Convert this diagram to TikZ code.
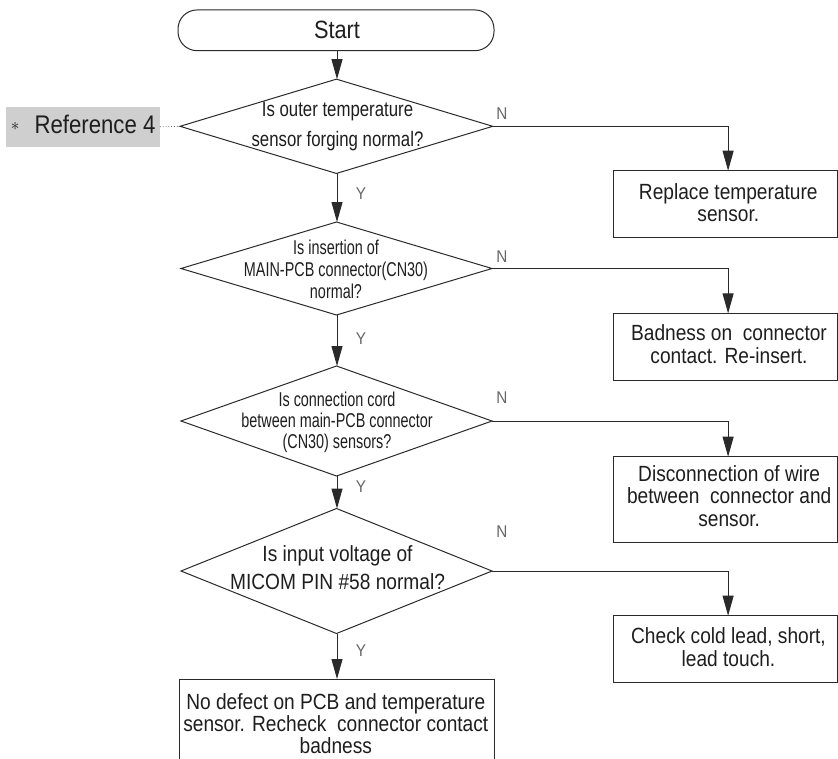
\documentclass[tikz,border=0pt]{standalone}
\usepackage{fontspec}
\setmainfont{Liberation Sans}
\newfontfamily\fN[FakeStretch=0.87]{Liberation Sans}
\newfontfamily\fDa[FakeStretch=0.80]{Liberation Sans}
\newfontfamily\fDb[FakeStretch=0.72]{Liberation Sans}
\newfontfamily\fYN[FakeStretch=0.90]{Liberation Sans}
\usetikzlibrary{shapes.geometric,arrows.meta}
\definecolor{linec}{HTML}{2A2A2A}
\definecolor{textc}{HTML}{1E1E1E}
\definecolor{refgray}{HTML}{CFCFCF}
\tikzset{
  every node/.style={inner sep=0pt, outer sep=0pt},
  dia/.style={diamond, draw=linec, line width=1pt, inner sep=0pt, outer sep=0pt},
  boxr/.style={rectangle, draw=linec, line width=1pt, minimum width=224.5pt},
  startbox/.style={rectangle, rounded corners=19pt, draw=linec, line width=1pt, minimum width=316pt, minimum height=40.7pt},
  txt/.style={anchor=base, align=center, text=textc},
  yn/.style={font=\fYN\fontsize{17}{17}\selectfont, text=black!60},
  arr/.style={draw=linec, line width=1pt, -{Triangle[length=20pt,width=11pt]}},
}
\begin{document}
\begin{tikzpicture}[x=1pt, y=-1pt]
\useasboundingbox (0,0) rectangle (838,758);
\clip (0,0) rectangle (838,758);
% shapes
\node[startbox] (start) at (336,30.3) {};
\node[dia, minimum width=312.7pt, minimum height=94.3pt] (d1) at (336.4,126.3) {};
\node[dia, minimum width=311pt, minimum height=93pt] (d2) at (336.5,268.5) {};
\node[dia, minimum width=311pt, minimum height=110pt] (d3) at (336.5,421) {};
\node[dia, minimum width=311pt, minimum height=125pt] (d4) at (336.5,571) {};
\node[boxr, minimum height=67pt] (b1) at (725.3,204.2) {};
\node[boxr, minimum height=66.7pt] (b2) at (725.3,346.7) {};
\node[boxr, minimum height=86pt] (b3) at (725.3,499.7) {};
\node[boxr, minimum height=66.6pt] (b4) at (725.3,649) {};
\node[rectangle, draw=linec, line width=1pt, minimum width=315pt, minimum height=100pt] (b5) at (336.5,729) {};
\node[rectangle, fill=refgray, minimum width=154pt, minimum height=39.5pt] (ref) at (83,126.8) {};
% texts (anchor=base is the baseline of the last line)
\node[txt, font=\fN\fontsize{25}{25}\selectfont] (tstart) at (337,38) {Start};
\node[txt, font=\fDa\fontsize{21}{30}\selectfont] (td1) at (337.5,146.7) {Is outer temperature\\sensor forging normal?};
\node[txt, font=\fDb\fontsize{20}{22}\selectfont] (td2) at (336,298.3) {Is insertion of\\MAIN-PCB connector(CN30)\\normal?};
\node[txt, font=\fDb\fontsize{20}{20.8}\selectfont] (td3) at (337,448.3) {Is connection cord\\between main-PCB connector\\(CN30) sensors?};
\node[txt, font=\fN\fontsize{22}{27.6}\selectfont] (td4) at (337.5,589.3) {Is input voltage of\\MICOM PIN \#58 normal?};
\node[txt, font=\fN\fontsize{22}{21.7}\selectfont] (tb1) at (728.3,221) {Replace temperature\\sensor.};
\node[txt, font=\fN\fontsize{22}{23.3}\selectfont] (tb2) at (729,363.3) {Badness on\ \ connector\\contact. Re-insert.};
\node[txt, font=\fN\fontsize{22}{22.2}\selectfont] (tb3) at (729.2,526) {Disconnection of wire\\between\ \ connector and\\sensor.};
\node[txt, font=\fN\fontsize{22}{23.4}\selectfont] (tb4) at (728.5,666.7) {Check cold lead, short,\\lead touch.};
\node[txt, font=\fN\fontsize{22}{22.2}\selectfont] (tb5) at (335.8,753.7) {No defect on PCB and temperature\\sensor. Recheck\ \ connector contact\\badness};
\node[txt, font=\fN\fontsize{25.5}{25.5}\selectfont] (tref) at (95,133.3) {Reference 4};
\node[text=textc, font=\fontsize{16}{16}\selectfont] (star) at (15.3,126) {$\ast$};
% Y / N labels
\node[yn] (n1) at (502,114) {N};
\node[yn] (n2) at (502,257) {N};
\node[yn] (n3) at (502,398) {N};
\node[yn] (n4) at (502,532) {N};
\node[yn] (y1) at (361,194) {Y};
\node[yn] (y2) at (361,339) {Y};
\node[yn] (y3) at (361,487) {Y};
\node[yn] (y4) at (361,651) {Y};
% connectors
\draw[arr] ([xshift=1pt]start.south) -- ([xshift=0.6pt]d1.north);
\draw[arr] ([xshift=0.6pt]d1.south) -- ([xshift=0.5pt]d2.north);
\draw[arr] ([xshift=0.5pt]d2.south) -- ([xshift=0.5pt]d3.north);
\draw[arr] ([xshift=0.5pt]d3.south) -- ([xshift=0.5pt]d4.north);
\draw[arr] ([xshift=0.5pt]d4.south) -- ([xshift=0.5pt]b5.north);
\draw[arr] (d1.east) -| ([xshift=2.8pt]b1.north);
\draw[arr] (d2.east) -| ([xshift=2.8pt]b2.north);
\draw[arr] (d3.east) -| ([xshift=2.8pt]b3.north);
\draw[arr] (d4.east) -| ([xshift=2.8pt]b4.north);
\draw[dotted, line width=0.8pt, draw=black!60] (ref.east) -- (d1.west);
\end{tikzpicture}
\end{document}
